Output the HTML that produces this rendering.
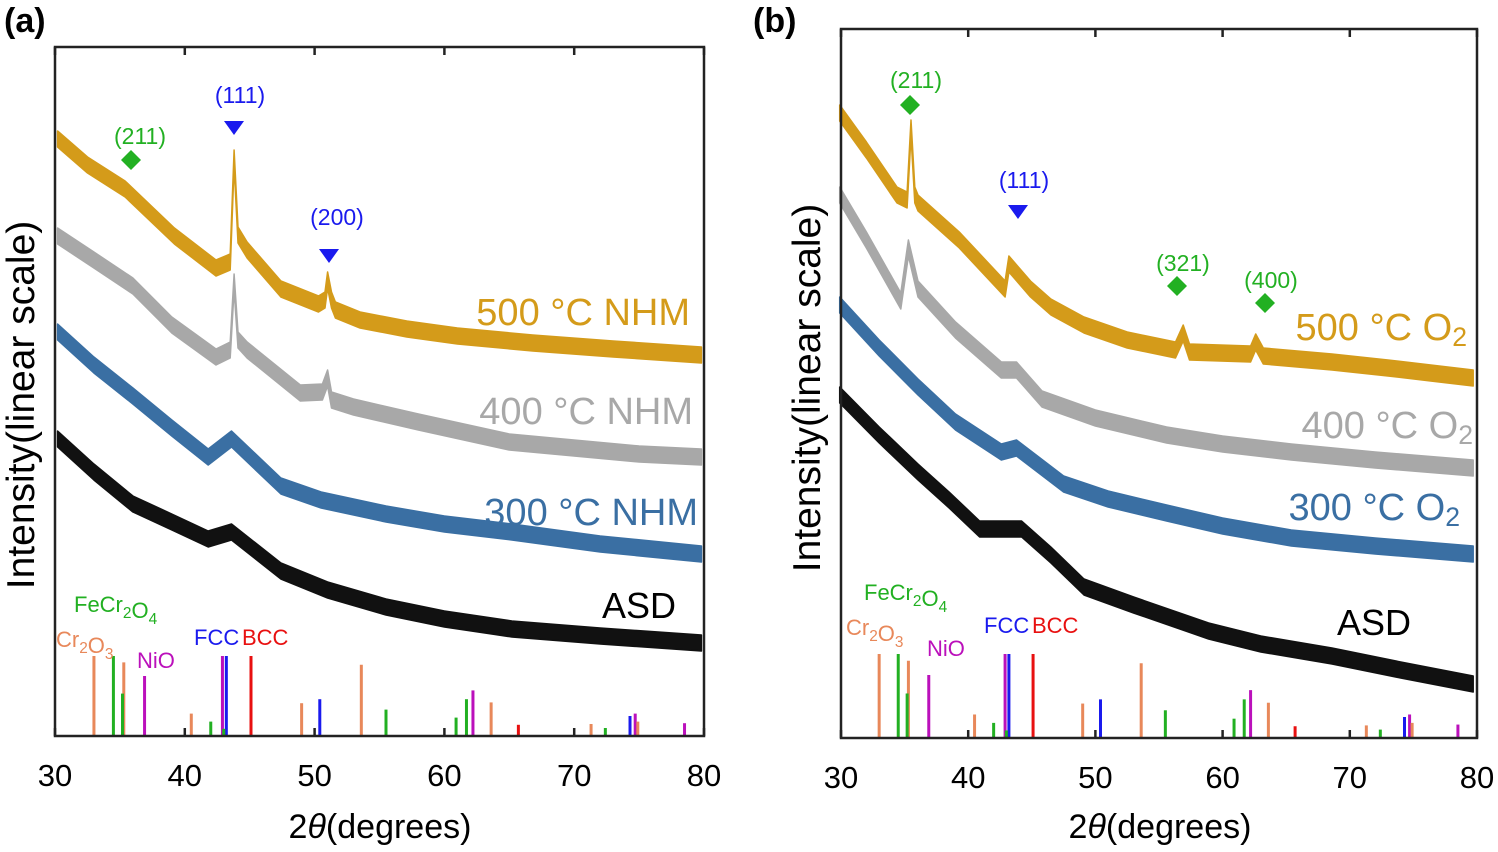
<!DOCTYPE html>
<html><head><meta charset="utf-8"><style>
body{margin:0;background:#fff}
svg{display:block;font-family:"Liberation Sans","DejaVu Sans",sans-serif}
</style></head><body>
<svg id="chart" width="1498" height="852" viewBox="0 0 1498 852" xmlns="http://www.w3.org/2000/svg">
<text x="4" y="32" font-size="34" font-weight="bold">(a)</text>
<text x="753" y="32" font-size="34" font-weight="bold">(b)</text>
<g id="pa"></g>
<g id="pb"></g>
</svg>
<script>
// ---- data ----
const xTicks = [30, 40, 50, 60, 70, 80];
const stickDeg = [33, 34.5, 35.3, 35.2, 36.9, 40.5, 42, 42.9, 43.2, 43.0, 45.1, 49, 50.4, 53.6, 55.5, 60.9, 61.7, 62.2, 63.6, 65.7, 71.3, 72.4, 74.3, 74.7, 74.9, 78.5];
const stickInt = [100, 100, 92, 53, 75, 28, 18, 100, 100, 9, 100, 41, 46, 89, 33, 23, 46, 57, 42, 14, 15, 10, 25, 28, 18, 16];
const stickPhase = ['cr','fe','cr','fe','ni','cr','fe','ni','fcc','fe','bcc','cr','fcc','cr','fe','fe','fe','ni','cr','bcc','cr','fe','fcc','ni','cr','ni'];
// panel a curves (2theta, intensity a.u.)
const aDeg500 = [30.2, 32.5, 35.4, 39.2, 42.4, 43.5, 43.8, 44.1, 44.8, 47.4, 50.3, 50.8, 51.0, 51.3, 51.6, 53.5, 57.1, 61, 66.8, 73, 79.8];
const aInt500 = [601, 575, 551, 504, 472, 478, 582, 505, 490, 451, 436, 440, 460, 440, 430, 420, 411, 404, 397, 391, 385];
const aDeg400 = [30.2, 33, 36.0, 39, 42.4, 43.5, 43.8, 44.1, 44.8, 48.9, 50.6, 51.0, 51.3, 53, 58, 65, 75, 79.8];
const aInt400 = [504, 480, 454, 415, 383, 390, 458, 400, 390, 347, 348, 362, 340, 333, 318, 298, 286, 283];
const aDeg300 = [30.2, 33, 36.0, 39, 41.8, 43.6, 47.4, 50.5, 55.5, 60, 65.2, 72, 79.8];
const aInt300 = [408, 375, 344, 312, 283, 301, 254, 240, 226, 216, 208, 196, 186];
const aDegASD = [30.2, 33, 36.0, 39, 41.8, 43.6, 47.4, 51, 55.5, 60, 65.2, 72, 79.8];
const aIntASD = [301, 268, 236, 218, 201, 208, 169, 150, 133, 121, 111, 104, 97];
// panel b curves
const bDeg500 = [29.9, 32, 34.4, 35.2, 35.5, 35.8, 36.05, 39.3, 42.9, 43.2, 44.9, 46.5, 49.1, 52.5, 56.3, 56.9, 57.4, 62.2, 62.6, 63.2, 68.6, 73, 79.7];
const bInt500 = [627, 590, 545, 540, 612, 545, 537, 500, 451, 476, 451, 433, 415, 400, 390, 407, 388, 386, 398, 384, 378, 372, 362];
const bDeg400 = [29.9, 32, 34.7, 35.3, 36.05, 39, 42.6, 43.8, 45.8, 50, 55.6, 60, 65.4, 72, 79.7];
const bInt400 = [545, 500, 439, 492, 451, 410, 370, 370, 341, 322, 305, 296, 288, 280, 272];
const bDeg300 = [29.9, 33, 36.05, 39, 42.6, 43.8, 47.5, 51, 55.6, 60, 65.4, 72, 79.7];
const bInt300 = [435, 392, 353, 318, 288, 292, 256, 241, 227, 214, 202, 194, 186];
const bDegASD = [29.9, 33, 36.05, 38.5, 40.9, 44.2, 46.5, 49.1, 53, 58.9, 63, 68.6, 74, 79.7];
const bIntASD = [345, 305, 268, 240, 211, 211, 185, 153, 135, 109, 96, 84, 70, 56];

const phaseColor = {cr:'#e8885a', fe:'#22b022', ni:'#bb10bb', fcc:'#1a1aee', bcc:'#e81010'};
const NS = 'http://www.w3.org/2000/svg';
function mk(parent, tag, attrs, text){
  const e = document.createElementNS(NS, tag);
  for (const k in attrs) e.setAttribute(k, attrs[k]);
  if (text !== undefined) e.textContent = text;
  parent.appendChild(e); return e;
}

function panel(g, P){
  const X = d => P.x0 + (d - 30) * (P.x1 - P.x0) / 50;
  const Y = v => 740 - v;
  stickDeg.forEach((d, i) => {
    const s = mk(g, 'line', {x1: X(d), x2: X(d), y1: P.bot, y2: P.bot - stickInt[i] * P.sk, stroke: phaseColor[stickPhase[i]], 'stroke-width': 3});
    
    
  });
  P.curves.forEach(c => {
    const hw = 8;
    const up = c.deg.map((d, i) => X(d).toFixed(1) + ',' + (Y(c.val[i]) - hw).toFixed(1));
    const dn = c.deg.map((d, i) => X(d).toFixed(1) + ',' + (Y(c.val[i]) + hw).toFixed(1)).reverse();
    const p = mk(g, 'polygon', {points: up.concat(dn).join(' '), fill: c.color, stroke: c.color, 'stroke-width': 1.5, 'stroke-linejoin': 'round'});
    
    
  });
  const f = mk(g, 'rect', {x: P.x0, y: P.top, width: P.x1 - P.x0, height: P.bot - P.top, fill: 'none', stroke: '#222', 'stroke-width': 2.5});
  
  
  xTicks.forEach(t => {
    mk(g, 'line', {x1: X(t), x2: X(t), y1: P.top, y2: P.top + 8, stroke: '#222', 'stroke-width': 2.5});
    mk(g, 'line', {x1: X(t), x2: X(t), y1: P.bot, y2: P.bot - 8, stroke: '#222', 'stroke-width': 2.5});
    const tl = mk(g, 'text', {x: X(t), y: P.bot + 50, 'font-size': 31, 'text-anchor': 'middle'}, t);
    
    
  });
}

const ga = document.getElementById('pa');
panel(ga, {x0: 55, x1: 704, top: 47, bot: 736, sk: 0.8, curves: [
  {deg: aDegASD, val: aIntASD, color: '#111', name: 'asd-curve'},
  {deg: aDeg300, val: aInt300, color: '#3a6fa3', name: 'curve-300c'},
  {deg: aDeg400, val: aInt400, color: '#a8a8a8', name: 'curve-400c'},
  {deg: aDeg500, val: aInt500, color: '#d49b1a', name: 'curve-500c'}]});
const gb = document.getElementById('pb');
panel(gb, {x0: 841, x1: 1477, top: 29, bot: 738, sk: 0.84, curves: [
  {deg: bDegASD, val: bIntASD, color: '#111', name: 'asd-curve'},
  {deg: bDeg300, val: bInt300, color: '#3a6fa3', name: 'curve-300c'},
  {deg: bDeg400, val: bInt400, color: '#a8a8a8', name: 'curve-400c'},
  {deg: bDeg500, val: bInt500, color: '#d49b1a', name: 'curve-500c'}]});

const svg = document.getElementById('chart');
function addText(x, y, size, color, html, anchor, name, rot){
  const t = document.createElementNS(NS, 'text');
  t.setAttribute('x', x); t.setAttribute('y', y);
  t.setAttribute('font-size', size); t.setAttribute('fill', color);
  if (anchor) t.setAttribute('text-anchor', anchor);
  if (rot) t.setAttribute('transform', rot);
  t.innerHTML = html;
  
  
  svg.appendChild(t);
}
const sub = s => '<tspan font-size="0.7em" dy="6">' + s + '</tspan><tspan dy="-6"></tspan>';
addText(690, 325, 38, '#d49b1a', '500 °C NHM', 'end', 'label-500c');
addText(693, 424, 38, '#a8a8a8', '400 °C NHM', 'end', 'label-400c');
addText(698, 525, 38, '#3a6fa3', '300 °C NHM', 'end', 'label-300c');
addText(676, 618, 36, '#000', 'ASD', 'end', 'label-asd');
addText(1467, 340, 38, '#d49b1a', '500 °C O' + sub('2'), 'end', 'label-500c');
addText(1473, 438, 38, '#a8a8a8', '400 °C O' + sub('2'), 'end', 'label-400c');
addText(1460, 520, 38, '#3a6fa3', '300 °C O' + sub('2'), 'end', 'label-300c');
addText(1411, 635, 36, '#000', 'ASD', 'end', 'label-asd');
addText(34, 405, 39, '#000', 'Intensity(linear scale)', 'middle', 'y-axis-title', 'rotate(-90 34 405)');
addText(820, 388, 39, '#000', 'Intensity(linear scale)', 'middle', 'y-axis-title', 'rotate(-90 820 388)');
addText(380, 838, 34, '#000', '2<tspan font-style="italic">θ</tspan>(degrees)', 'middle', 'x-axis-title');
addText(1160, 838, 34, '#000', '2<tspan font-style="italic">θ</tspan>(degrees)', 'middle', 'x-axis-title');
[[0,0],[790,-12]].forEach(([dx,dy]) => {
  addText(74+dx, 612+dy, 22, '#22b022', 'FeCr' + sub('2') + 'O' + sub('4'), 'start', 'phase-label-fecr2o4');
  addText(56+dx, 647+dy, 22, '#e8885a', 'Cr' + sub('2') + 'O' + sub('3'), 'start', 'phase-label-cr2o3');
  addText(137+dx, 668+dy, 22, '#bb10bb', 'NiO', 'start', 'phase-label-nio');
  addText(194+dx, 645+dy, 22, '#1a1aee', 'FCC', 'start', 'phase-label-fcc');
  addText(242+dx, 645+dy, 22, '#e81010', 'BCC', 'start', 'phase-label-bcc');
});
function diamond(x, y, name){
  const p = document.createElementNS(NS, 'polygon');
  p.setAttribute('points', `${x},${y-10} ${x+10},${y} ${x},${y+10} ${x-10},${y}`);
  p.setAttribute('fill', '#22b022');
  
  
  svg.appendChild(p);
}
function tri(x, y, name){
  const p = document.createElementNS(NS, 'polygon');
  p.setAttribute('points', `${x-10},${y-7} ${x+10},${y-7} ${x},${y+7}`);
  p.setAttribute('fill', '#1a1aee');
  
  
  svg.appendChild(p);
}
addText(140, 144, 23, '#22b022', '(211)', 'middle', 'peak-label-211'); diamond(131, 160, 'peak-marker-211');
addText(240, 103, 23, '#1a1aee', '(111)', 'middle', 'peak-label-111'); tri(234, 128, 'peak-marker-111');
addText(337, 225, 23, '#1a1aee', '(200)', 'middle', 'peak-label-200'); tri(329, 256, 'peak-marker-200');
addText(916, 88, 23, '#22b022', '(211)', 'middle', 'peak-label-211'); diamond(910, 105, 'peak-marker-211');
addText(1024, 188, 23, '#1a1aee', '(111)', 'middle', 'peak-label-111'); tri(1018, 212, 'peak-marker-111');
addText(1183, 271, 23, '#22b022', '(321)', 'middle', 'peak-label-321'); diamond(1177, 286, 'peak-marker-321');
addText(1271, 288, 23, '#22b022', '(400)', 'middle', 'peak-label-400'); diamond(1265, 303, 'peak-marker-400');
</script>
</body></html>
